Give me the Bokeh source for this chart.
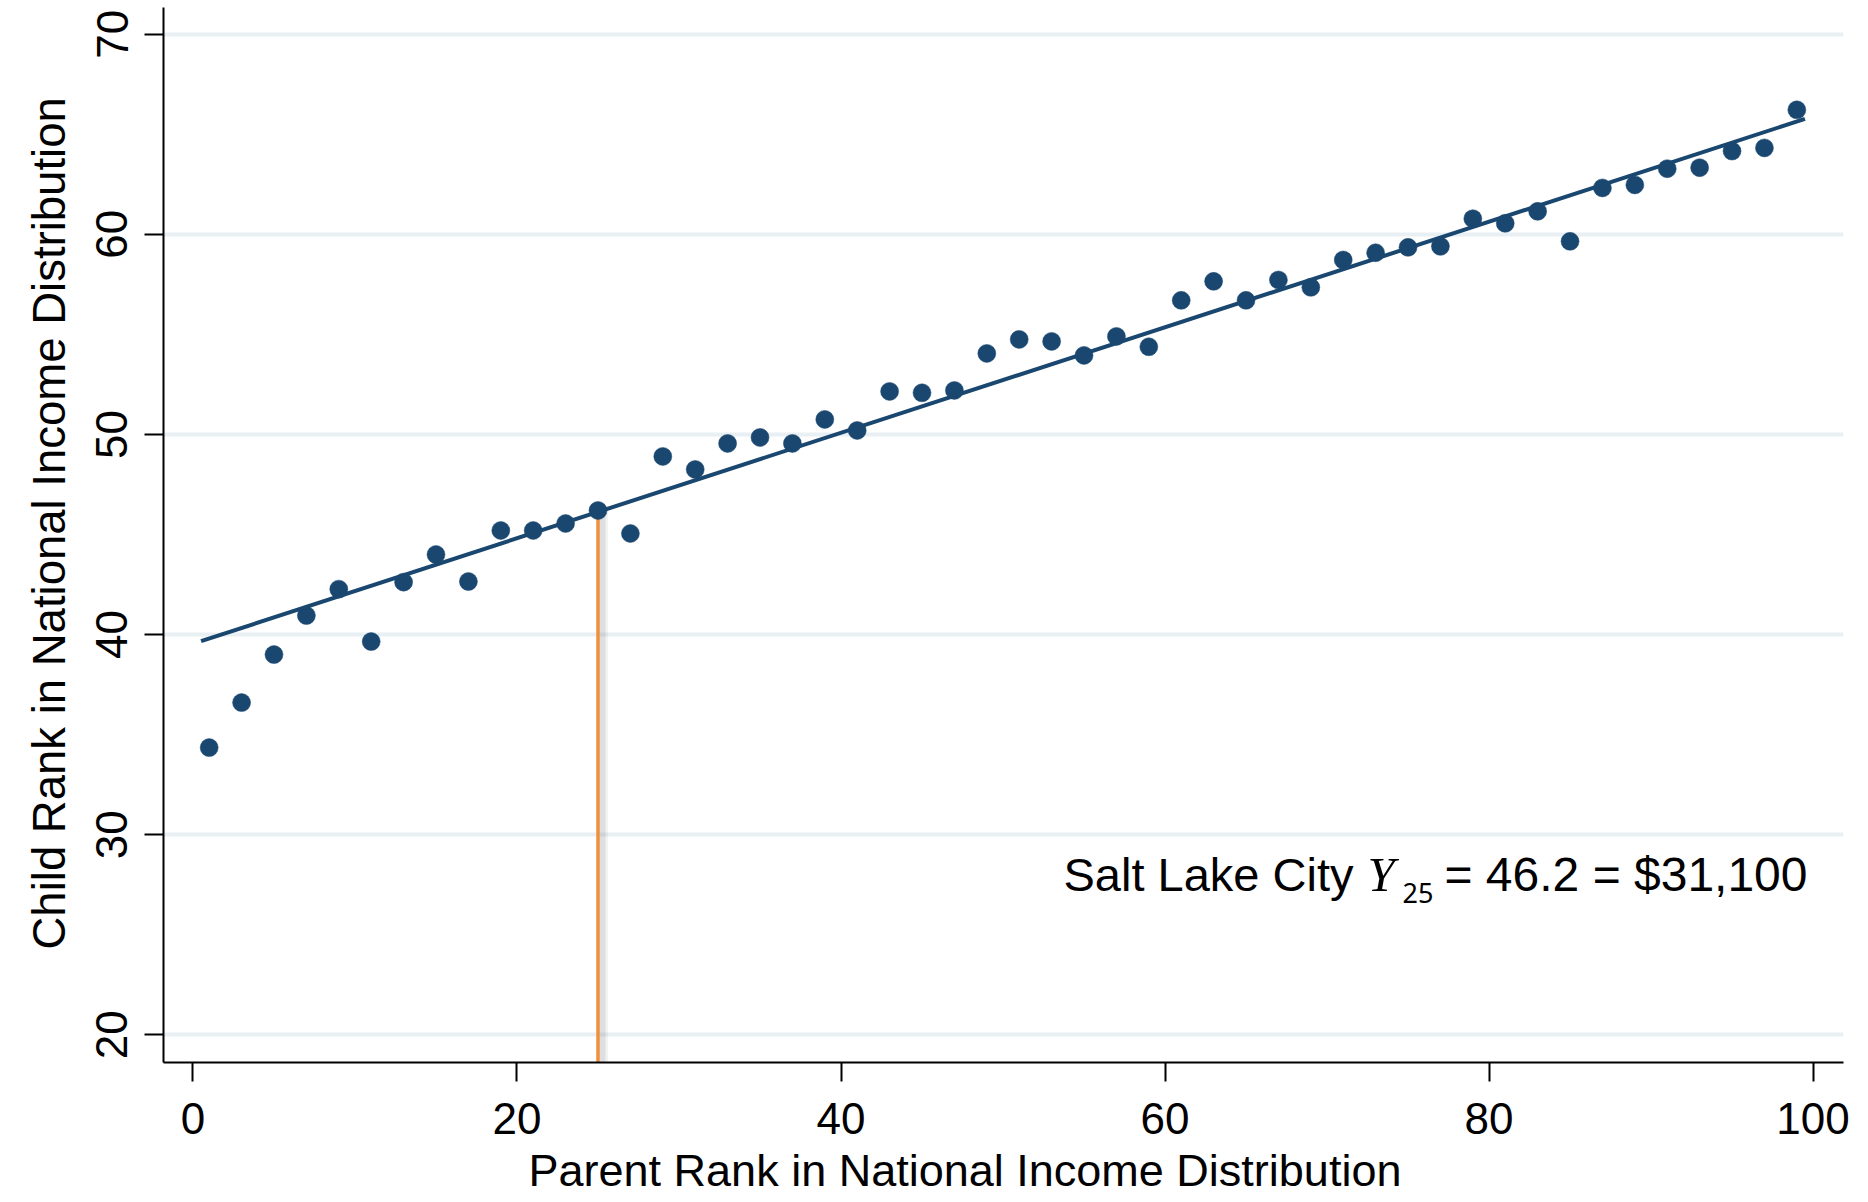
from math import pi

from bokeh.plotting import figure
from bokeh.models import Range1d, FixedTicker, Label, Title
from bokeh.embed import file_html
from bokeh.resources import INLINE

# ---------------- data ----------------
parent_rank = [1, 3, 5, 7, 9, 11, 13, 15, 17, 19, 21, 23, 25, 27, 29, 31, 33, 35, 37, 39,
               41, 43, 45, 47, 49, 51, 53, 55, 57, 59, 61, 63, 65, 67, 69, 71, 73, 75, 77, 79,
               81, 83, 85, 87, 89, 91, 93, 95, 97, 99]
child_rank = [34.35, 36.6, 39.0, 40.95, 42.27, 39.65, 42.62, 44.0, 42.65, 45.2,
              45.2, 45.55, 46.2, 45.05, 48.9, 48.25, 49.55, 49.85, 49.55, 50.75,
              50.2, 52.15, 52.08, 52.2, 54.05, 54.75, 54.65, 53.95, 54.9, 54.38,
              56.7, 57.65, 56.7, 57.72, 57.35, 58.72, 59.08, 59.35, 59.4, 60.78,
              60.55, 61.15, 59.65, 62.32, 62.47, 63.28, 63.33, 64.16, 64.32, 66.22]
fit_x = [0.5, 99.5]
fit_y = [39.67, 65.77]

city = "Salt Lake City"
p25_rank = 25
y25 = 46.2
income_25 = "$31,100"

x_ticks = [0, 20, 40, 60, 80, 100]
y_ticks = [20, 30, 40, 50, 60, 70]
x_title = "Parent Rank in National Income Distribution"
y_title = "Child Rank in National Income Distribution"

# ---------------- layout (pixels) ----------------
FIG_W, FIG_H = 1868, 1202
FRAME_L, FRAME_R, FRAME_T, FRAME_B = 163, 1843, 7, 1062
X_START, X_END = -1.82, 101.88
Y_START, Y_END = 18.615, 71.335

NAVY = "#1a476f"
ORANGE = "#f0903c"
GRID = "#e8f0f3"
FONT = "Liberation Sans"
LABEL_SHIFT = 18  # label baseline correction (px)


def dx(px):
    return X_START + (px - FRAME_L) * (X_END - X_START) / (FRAME_R - FRAME_L)


def dy(py):
    return Y_END - (py - FRAME_T) * (Y_END - Y_START) / (FRAME_B - FRAME_T)


p = figure(width=FIG_W, height=FIG_H,
           x_range=Range1d(X_START, X_END), y_range=Range1d(Y_START, Y_END),
           output_backend="svg", toolbar_location=None,
           min_border_left=FRAME_L, min_border_right=FIG_W - FRAME_R,
           min_border_top=FRAME_T, min_border_bottom=FIG_H - FRAME_B)

p.outline_line_color = None
p.background_fill_color = "white"
p.border_fill_color = "white"

p.xgrid.visible = False
p.ygrid.ticker = FixedTicker(ticks=y_ticks)
p.ygrid.grid_line_color = GRID
p.ygrid.grid_line_width = 4

p.xaxis.ticker = FixedTicker(ticks=x_ticks)
p.yaxis.ticker = FixedTicker(ticks=y_ticks)
for ax in (p.xaxis, p.yaxis):
    ax.axis_line_color = "black"
    ax.axis_line_width = 2
    ax.major_tick_line_color = "black"
    ax.major_tick_line_width = 2
    ax.major_tick_out = 19
    ax.major_tick_in = 0
    ax.minor_tick_out = 0
    ax.minor_tick_in = 0
    ax.major_label_text_font = FONT
    ax.major_label_text_font_size = "44px"
    ax.major_label_text_color = "black"
p.xaxis.major_label_standoff = 21
p.yaxis.major_label_standoff = 17
p.yaxis.major_label_orientation = "parallel"

# axis titles
p.add_layout(Title(text=x_title, align="left", offset=365, standoff=13,
                   text_font=FONT, text_font_size="45px", text_font_style="normal",
                   text_color="black"), "below")
p.add_layout(Title(text=y_title, align="left", offset=113, standoff=38,
                   text_font=FONT, text_font_size="45.5px", text_font_style="normal",
                   text_color="black"), "left")

# reference line at the 25th percentile, with a soft shadow
shadow_dx = 4.5 * (X_END - X_START) / (FRAME_R - FRAME_L)
p.segment(x0=[p25_rank + shadow_dx], y0=[Y_START], x1=[p25_rank + shadow_dx], y1=[y25],
          line_color="#8a9095", line_alpha=0.12, line_width=11)
p.segment(x0=[p25_rank + shadow_dx], y0=[Y_START], x1=[p25_rank + shadow_dx], y1=[y25],
          line_color="#8a9095", line_alpha=0.2, line_width=6)
p.segment(x0=[p25_rank], y0=[Y_START], x1=[p25_rank], y1=[y25],
          line_color=ORANGE, line_width=3.5)

p.scatter(parent_rank, child_rank, size=18, fill_color=NAVY, line_color=NAVY, line_width=0.5)
p.line(fit_x, fit_y, line_color=NAVY, line_width=4)

# annotation: Salt Lake City Y_25 = 46.2 = $31,100
p.add_layout(Label(x=dx(1063), y=dy(891.7 - LABEL_SHIFT), text=city, text_align="left",
                   text_baseline="alphabetic", text_font=FONT, text_font_size="47px",
                   text_color="black"))
p.add_layout(Label(x=dx(1367), y=dy(891.7 - LABEL_SHIFT), text="Y", text_align="left",
                   text_baseline="alphabetic", text_font="Liberation Serif",
                   text_font_style="italic", text_font_size="49px", text_color="black"))
p.add_layout(Label(x=dx(1402), y=dy(902.7 - LABEL_SHIFT * 27 / 47), text=str(p25_rank),
                   text_align="left", text_baseline="alphabetic", text_font="Noto Sans",
                   text_font_size="27px", text_color="black"))
p.add_layout(Label(x=dx(1444), y=dy(891.7 - LABEL_SHIFT), text=f"= {y25} = {income_25}",
                   text_align="left", text_baseline="alphabetic", text_font=FONT,
                   text_font_size="48px", text_color="black"))

open("out.html", "w").write(file_html(p, INLINE))
